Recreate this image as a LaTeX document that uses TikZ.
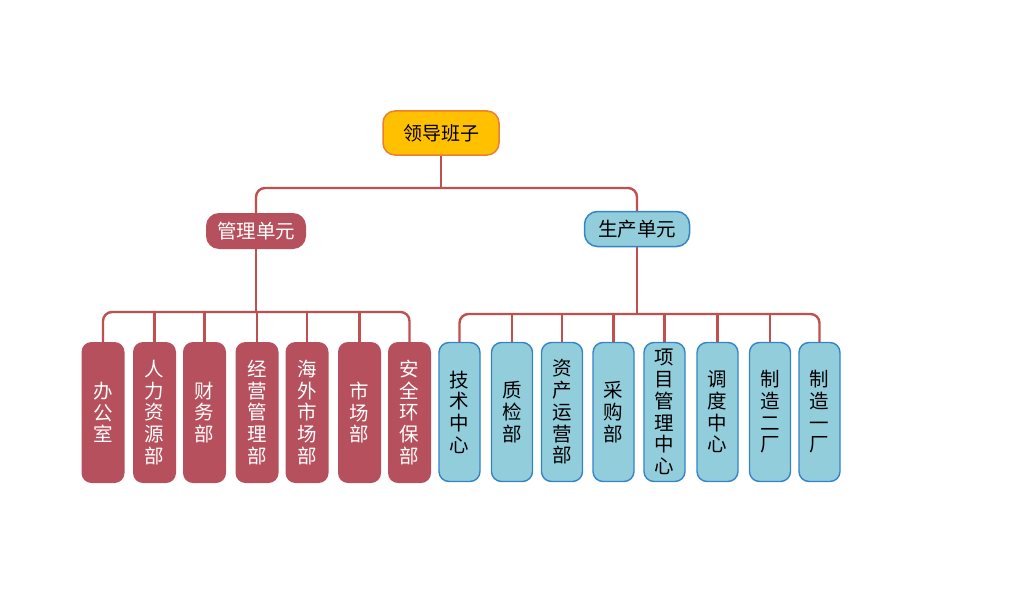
\documentclass[tikz,border=0pt]{standalone}
\usepackage{fontspec}
\setmainfont{Noto Sans CJK SC}
\definecolor{linkred}{RGB}{192,80,77}
\definecolor{rosefill}{RGB}{182,80,93}
\definecolor{skyfill}{RGB}{146,205,220}
\definecolor{skyline}{RGB}{52,132,200}
\definecolor{goldfill}{RGB}{255,192,0}
\definecolor{goldline}{RGB}{237,125,49}

\begin{document}
\begin{tikzpicture}[x=1pt,y=-1pt,
  link/.style={draw=linkred,line width=2.4pt},
  headbox/.style={draw=goldline,line width=1.5pt,fill=goldfill,rounded corners=12pt,
    minimum width=116pt,minimum height=44pt,font=\fontsize{19}{22}\selectfont},
  unitred/.style={fill=rosefill,text=white,rounded corners=13pt,
    minimum width=100pt,minimum height=36pt,font=\fontsize{19.5}{22}\selectfont},
  unitblue/.style={draw=skyline,line width=1.5pt,fill=skyfill,rounded corners=13pt,
    minimum width=105pt,minimum height=35pt,font=\fontsize{19.5}{22}\selectfont},
  leafred/.style={fill=rosefill,text=white,rounded corners=10pt,align=center,inner sep=0pt,
    minimum width=43pt,minimum height=141pt,font=\fontsize{19.5}{21.7}\selectfont},
  leafblue/.style={leafred,draw=skyline,line width=1.4pt,fill=skyfill,text=black,
    minimum width=41pt,minimum height=139pt}]
  \useasboundingbox (0,0) rectangle (1024,615);

  \node[headbox] (lead) at (441,133) {领导班子};
  \node[unitred] (mgmt) at (256,231) {管理单元};
  \node[unitblue] (prod) at (637,229) {生产单元};

  % 管理单元 leaves
  \foreach \n/\x/\t in {l1/103/{办\\公\\室},l2/154.5/{人\\力\\资\\源\\部},l3/204.5/{财\\务\\部},
      l4/257/{经\\营\\管\\理\\部},l5/307/{海\\外\\市\\场\\部},l6/359.5/{市\\场\\部},
      l7/409.5/{安\\全\\环\\保\\部}}
    \node[leafred] (\n) at (\x,412.5) {\t};

  % 生产单元 leaves
  \foreach \n/\x/\t in {r1/459.5/{技\\术\\中\\心},r2/512/{质\\检\\部},r3/562/{资\\产\\运\\营\\部},
      r4/613.5/{采\\购\\部},r5/664.5/{项\\目\\管\\理\\中\\心},r6/717.5/{调\\度\\中\\心},
      r7/770/{制\\造\\二\\厂},r8/819.5/{制\\造\\一\\厂}}
    \node[leafblue] (\n) at (\x,412) {\t};

  \coordinate (busT) at (441,188);
  \coordinate (busL) at (256,312);
  \coordinate (busR) at (637,314);

  \draw[link] (lead.south) -- (lead.south |- busT);
  \draw[link,rounded corners=9pt] (mgmt.north) |- (busT) -| (prod.north);

  \draw[link] (mgmt.south) -- (mgmt.south |- busL);
  \draw[link,rounded corners=9pt] (l1.north) |- (busL) -| (l7.north);
  \foreach \c in {l2,l3,l4,l5,l6}
    \draw[link] (\c.north) -- (\c.north |- busL);

  \draw[link] (prod.south) -- (prod.south |- busR);
  \draw[link,rounded corners=9pt] (r1.north) |- (busR) -| (r8.north);
  \foreach \c in {r2,r3,r4,r5,r6,r7}
    \draw[link] (\c.north) -- (\c.north |- busR);
\end{tikzpicture}
\end{document}
